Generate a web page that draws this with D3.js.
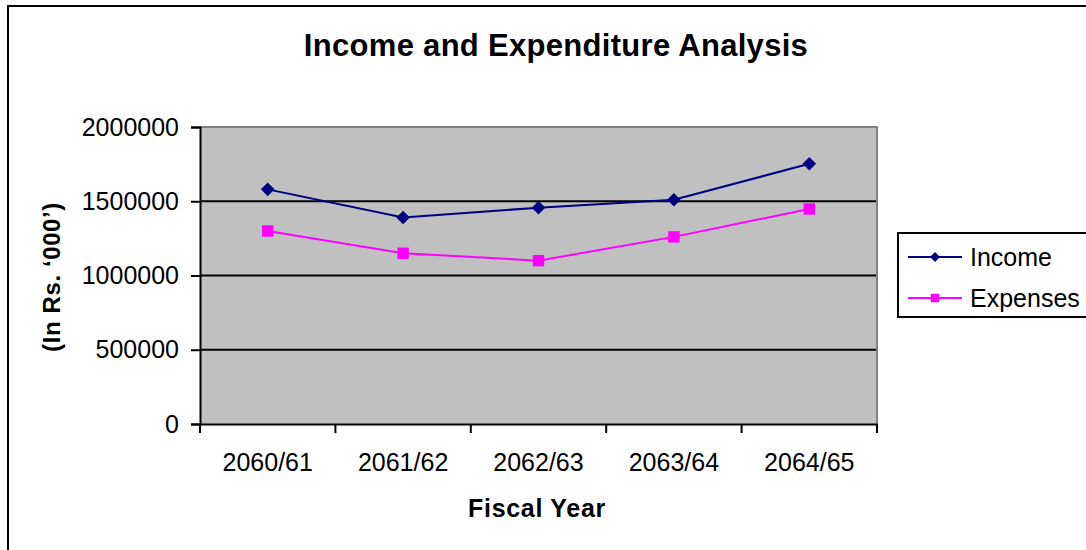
<!DOCTYPE html>
<html>
<head>
<meta charset="utf-8">
<script src="https://cdn.jsdelivr.net/npm/d3@7"></script>
<style>
  body { margin: 0; background: #fff; }
  text { font-family: "Liberation Sans", Arial, sans-serif; fill: #000; }
</style>
</head>
<body>
<div id="chart"></div>
<script>
// data
const years = ["2060/61", "2061/62", "2062/63", "2063/64", "2064/65"];
const income = [1580000, 1390000, 1457000, 1510000, 1752000];
const expenses = [1300000, 1150000, 1100000, 1260000, 1448000];
const yTicks = [0, 500000, 1000000, 1500000, 2000000];

const width = 1086, height = 550;
const plot = {left: 200, top: 127, right: 877, bottom: 424};

const svg = d3.select("#chart").append("svg")
    .attr("width", width)
    .attr("height", height);

// outer chart frame (runs off the right and bottom edges)
svg.append("rect")
    .attr("x", 8).attr("y", 6)
    .attr("width", 1200).attr("height", 700)
    .attr("fill", "#fff")
    .attr("stroke", "#000")
    .attr("stroke-width", 2);

const x = d3.scaleBand()
    .domain(years)
    .range([plot.left, plot.right]);

const y = d3.scaleLinear()
    .domain([0, 2000000])
    .range([plot.bottom, plot.top]);

// plot background
svg.append("rect")
    .attr("x", plot.left).attr("y", plot.top)
    .attr("width", plot.right - plot.left)
    .attr("height", plot.bottom - plot.top)
    .attr("fill", "#c0c0c0");

// gridlines
svg.append("g")
  .selectAll("line")
  .data(yTicks.filter(d => d > 0 && d < 2000000))
  .join("line")
    .attr("x1", plot.left).attr("x2", plot.right)
    .attr("y1", d => y(d)).attr("y2", d => y(d))
    .attr("stroke", "#000")
    .attr("stroke-width", 2);

// gray top and right border of the plot area
svg.append("path")
    .attr("d", `M${plot.left},${plot.top}H${plot.right}V${plot.bottom}`)
    .attr("fill", "none")
    .attr("stroke", "#808080")
    .attr("stroke-width", 2);

// y axis
const yAxis = svg.append("g")
    .attr("transform", `translate(${plot.left},0)`)
    .call(d3.axisLeft(y).tickValues(yTicks).tickFormat(d3.format("d")).tickSize(9).tickPadding(12));
yAxis.select(".domain").attr("stroke-width", 2);
yAxis.selectAll(".tick line").attr("stroke-width", 2);
yAxis.selectAll(".tick text")
    .attr("font-size", 25)
    .attr("font-family", "Liberation Sans, Arial, sans-serif")
    .attr("fill", "#000");

// x axis, ticks between the categories
const xAxis = svg.append("g")
    .attr("transform", `translate(0,${plot.bottom})`)
    .call(d3.axisBottom(x).tickSize(0).tickPadding(29));
xAxis.select(".domain").attr("stroke-width", 2);
xAxis.selectAll(".tick text")
    .attr("font-size", 25)
    .attr("font-family", "Liberation Sans, Arial, sans-serif")
    .attr("fill", "#000");
const bounds = years.map(d => x(d)).concat([x(years[years.length - 1]) + x.bandwidth()]);
xAxis.append("g")
  .selectAll("line")
  .data(bounds)
  .join("line")
    .attr("x1", d => d).attr("x2", d => d)
    .attr("y1", 0).attr("y2", 9)
    .attr("stroke", "#000")
    .attr("stroke-width", 2);

// titles
svg.append("text")
    .attr("x", 556).attr("y", 56)
    .attr("text-anchor", "middle")
    .attr("font-size", 31)
    .attr("font-weight", "bold")
    .attr("letter-spacing", 0.3)
    .text("Income and Expenditure Analysis");

svg.append("text")
    .attr("x", 537).attr("y", 517)
    .attr("text-anchor", "middle")
    .attr("font-size", 25)
    .attr("font-weight", "bold")
    .attr("letter-spacing", 0.7)
    .text("Fiscal Year");

svg.append("text")
    .attr("transform", "translate(60,277) rotate(-90)")
    .attr("text-anchor", "middle")
    .attr("font-size", 24)
    .attr("font-weight", "bold")
    .attr("letter-spacing", 0.6)
    .text("(In Rs. \u2018000\u2019)");

// series
const cx = d => x(d) + x.bandwidth() / 2;
const series = [
  {name: "Income", values: income, color: "#000080", symbol: d3.symbolSquare, size: 92, rotate: 45},
  {name: "Expenses", values: expenses, color: "#ff00ff", symbol: d3.symbolSquare, size: 130, rotate: 0}
];

const line = d3.line()
    .x(d => cx(d.year))
    .y(d => y(d.value));

series.forEach(s => {
  const pts = years.map((yr, i) => ({year: yr, value: s.values[i]}));
  svg.append("path")
      .datum(pts)
      .attr("d", line)
      .attr("fill", "none")
      .attr("stroke", s.color)
      .attr("stroke-width", 2);
  svg.append("g")
    .selectAll("path")
    .data(pts)
    .join("path")
      .attr("transform", d => `translate(${cx(d.year)},${y(d.value)}) rotate(${s.rotate})`)
      .attr("d", d3.symbol(s.symbol, s.size))
      .attr("fill", s.color);
});

// legend
const legend = svg.append("g");
legend.append("rect")
    .attr("x", 898).attr("y", 233)
    .attr("width", 220).attr("height", 84)
    .attr("fill", "#fff")
    .attr("stroke", "#000")
    .attr("stroke-width", 2);

const item = legend.selectAll("g.item")
  .data(series)
  .join("g")
    .attr("class", "item")
    .attr("transform", (d, i) => `translate(0,${257 + i * 41})`);
item.append("line")
    .attr("x1", 908).attr("x2", 962)
    .attr("stroke", d => d.color)
    .attr("stroke-width", 2);
item.append("path")
    .attr("transform", d => `translate(935,0) rotate(${d.rotate})`)
    .attr("d", d => d3.symbol(d.symbol, d.size * 0.55)())
    .attr("fill", d => d.color);
item.append("text")
    .attr("x", 970)
    .attr("dy", "0.35em")
    .attr("font-size", 25)
    .text(d => d.name);
</script>
</body>
</html>
